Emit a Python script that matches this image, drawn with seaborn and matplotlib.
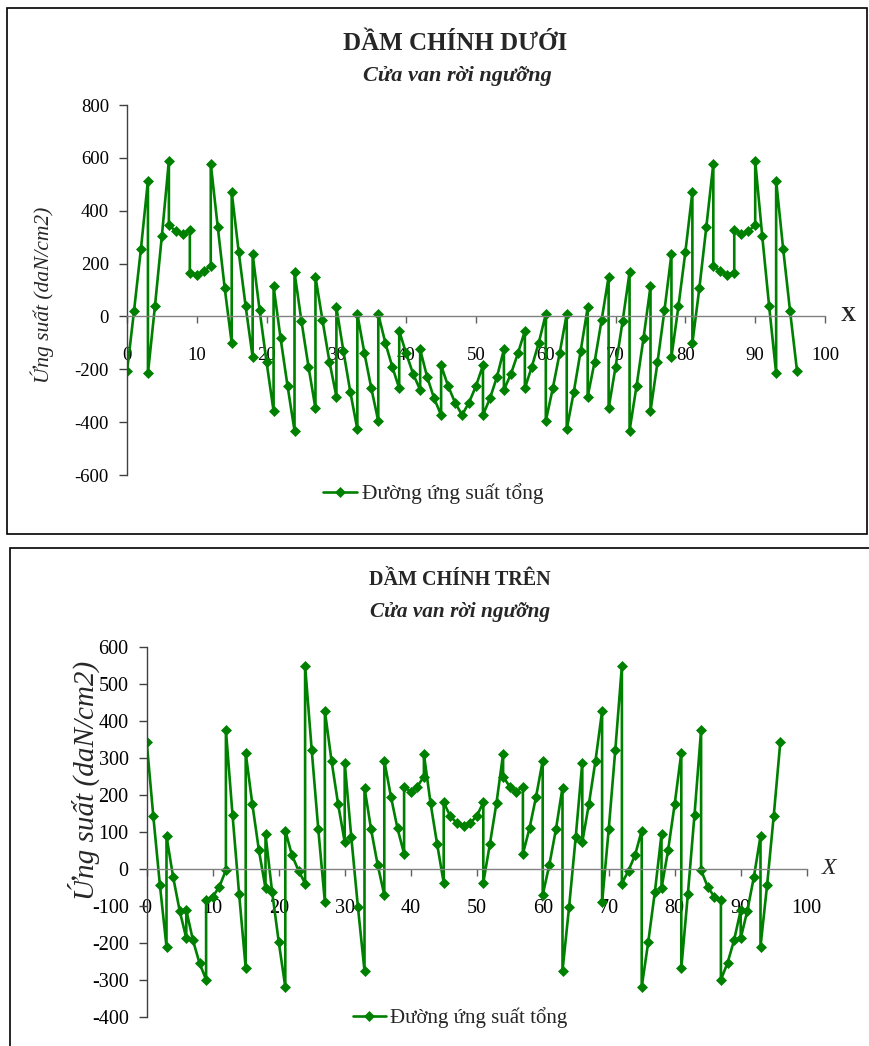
import matplotlib
matplotlib.use('Agg')
import matplotlib.pyplot as plt
import seaborn as sns
import pandas as pd
from matplotlib.patches import Rectangle

# ---------------- data ----------------
x_duoi = [0, 1, 2, 3, 3, 4, 5, 6, 6, 7, 8, 9, 9, 10, 11, 12, 12, 13, 14, 15, 15, 16, 17, 18, 18,
          19, 20, 21, 21, 22, 23, 24, 24, 25, 26, 27, 27, 28, 29, 30, 30, 31, 32, 33, 33, 34, 35,
          36, 36, 37, 38, 39, 39, 40, 41, 42, 42, 43, 44, 45, 45, 46, 47, 48,
          49, 50, 51, 51, 52, 53, 54, 54, 55, 56, 57, 57, 58, 59, 60, 60, 61, 62, 63, 63, 64, 65,
          66, 66, 67, 68, 69, 69, 70, 71, 72, 72, 73, 74, 75, 75, 76, 77, 78, 78, 79, 80, 81, 81,
          82, 83, 84, 84, 85, 86, 87, 87, 88, 89, 90, 90, 91, 92, 93, 93, 94, 95, 96]
y_duoi = [-208, 19, 257, 514, -215, 38, 306, 589, 346, 322, 313, 327, 166, 158, 171, 192, 578,
          339, 107, -101, 471, 245, 38, -154, 236, 23, -174, -358, 114, -82, -263, -432, 167,
          -19, -190, -348, 150, -13, -171, -303, 34, -130, -287, -427, 10, -137, -272, -396, 9,
          -99, -190, -272, -55, -140, -218, -278, -125, -229, -310, -373, -185, -263, -326, -373,
          -326, -263, -185, -373, -310, -229, -125, -278, -218, -140, -55, -272, -190, -99, 9,
          -396, -272, -137, 10, -427, -287, -130, 34, -303, -171, -13, 150, -348, -190, -19, 167,
          -432, -263, -82, 114, -358, -174, 23, 236, -154, 38, 245, 471, -101, 107, 339, 578, 192,
          171, 158, 166, 327, 313, 322, 346, 589, 306, 38, -215, 514, 257, 19, -208]

x_tren = [0, 1, 2, 3, 3, 4, 5, 6, 6, 7, 8, 9, 9, 10, 11, 12, 12, 13, 14, 15, 15, 16, 17, 18, 18,
          19, 20, 21, 21, 22, 23, 24, 24, 25, 26, 27, 27, 28, 29, 30, 30, 31, 32, 33, 33, 34, 35,
          36, 36, 37, 38, 39, 39, 40, 41, 42, 42, 43, 44, 45, 45, 46, 47, 48,
          49, 50, 51, 51, 52, 53, 54, 54, 55, 56, 57, 57, 58, 59, 60, 60, 61, 62, 63, 63, 64, 65,
          66, 66, 67, 68, 69, 69, 70, 71, 72, 72, 73, 74, 75, 75, 76, 77, 78, 78, 79, 80, 81, 81,
          82, 83, 84, 84, 85, 86, 87, 87, 88, 89, 90, 90, 91, 92, 93, 93, 94, 95, 96]
y_tren = [342, 142, -44, -211, 88, -22, -114, -188, -112, -193, -255, -300, -85, -76, -49, -4, 375,
          146, -68, -269, 313, 175, 50, -53, 93, -62, -197, -320, 103, 37, -5, -40, 549, 321, 106,
          -91, 426, 292, 175, 72, 287, 85, -103, -276, 219, 106, 10, -71, 292, 195, 109, 40, 222,
          208, 222, 249, 310, 178, 67, -38, 179, 142, 123, 115,
          123, 142, 179, -38, 67, 178, 310, 249, 222, 208, 222, 40, 109, 195, 292, -71, 10, 106,
          219, -276, -103, 85, 287, 72, 175, 292, 426, -91, 106, 321, 549, -40, -5, 37, 103, -320,
          -197, -62, 93, -53, 50, 175, 313, -269, -68, 146, 375, -4, -49, -76, -85, -300, -255,
          -193, -112, -188, -114, -22, 88, -211, -44, 142, 342]

x_ticks = list(range(0, 101, 10))
y_ticks_duoi = list(range(-600, 801, 200))
y_ticks_tren = list(range(-400, 601, 100))

title_duoi = 'DẦM CHÍNH DƯỚI'
title_tren = 'DẦM CHÍNH TRÊN'
subtitle = 'Cửa van rời ngưỡng'
ylabel = 'Ứng suất (daN/cm2)'
series_name = 'Đường ứng suất tổng'

# ---------------- style ----------------
sns.set_theme(style='ticks')
plt.rcParams['font.family'] = ['Liberation Serif', 'DejaVu Serif']
plt.rcParams['axes.unicode_minus'] = False

W, H = 870, 1046
GREEN = '#008000'
fig = plt.figure(figsize=(W / 100, H / 100), dpi=100)


def fx(px):
    return px / W


def fy(py):
    return 1 - py / H


# frames
fig.patches.append(Rectangle((fx(7), fy(534)), fx(867) - fx(7), fy(8) - fy(534),
                             transform=fig.transFigure, fill=False, edgecolor='black', lw=1.2))
fig.patches.append(Rectangle((fx(10), fy(1080)), fx(900) - fx(10), fy(548) - fy(1080),
                             transform=fig.transFigure, fill=False, edgecolor='black', lw=1.2))


def draw(ax, xs, ys, yticks, ylim, fs, xlab_style, xfs):
    df = pd.DataFrame({'x': xs, 'y': ys})
    sns.lineplot(data=df, x='x', y='y', estimator=None, sort=False, ax=ax, color=GREEN,
                 lw=1.9, marker='D', markersize=5, markeredgecolor=GREEN, markeredgewidth=0.5,
                 label=series_name, legend=False)
    ax.set_xlim(0, 100)
    ax.set_ylim(*ylim)
    ax.set_xticks(x_ticks)
    ax.set_yticks(yticks)
    ax.set_xlabel('')
    ax.set_ylabel('')
    ax.set_facecolor('none')
    for s in ['top', 'right']:
        ax.spines[s].set_visible(False)
    ax.spines['bottom'].set_position(('data', 0))
    ax.spines['bottom'].set_color('#808080')
    ax.spines['left'].set_color('#404040')
    ax.spines['bottom'].set_linewidth(1.0)
    ax.spines['left'].set_linewidth(1.0)
    ax.tick_params(axis='x', direction='out', length=5, width=1, colors='#606060',
                   labelcolor='black', labelsize=fs, pad=17)
    ax.tick_params(axis='y', direction='out', length=6, width=1, colors='#404040',
                   labelcolor='black', labelsize=fs, pad=7)
    ax.text(103.3, 0, 'X', fontsize=xfs, va='center', ha='center', clip_on=False,
            **xlab_style)


ax1 = fig.add_axes([fx(127), fy(475), fx(825) - fx(127), fy(105) - fy(475)])
draw(ax1, x_duoi, y_duoi, y_ticks_duoi, (-600, 800), 13.5, {'weight': 'bold'}, 15)

ax2 = fig.add_axes([fx(146.7), fy(1016.7), fx(806.7) - fx(146.7), fy(646.7) - fy(1016.7)])
draw(ax2, x_tren, y_tren, y_ticks_tren, (-400, 600), 14.5, {'style': 'italic'}, 17)

# titles
fig.text(fx(455), fy(43), title_duoi, weight='bold', fontsize=18, ha='center', va='center')
fig.text(fx(457), fy(76), subtitle, weight='bold', style='italic', fontsize=16,
         ha='center', va='center')
fig.text(fx(460), fy(580), title_tren, weight='bold', fontsize=14.5, ha='center', va='center')
fig.text(fx(460), fy(612), subtitle, weight='bold', style='italic', fontsize=15.3,
         ha='center', va='center')

# y labels
fig.text(fx(42), fy(295), ylabel, rotation=90, style='italic', fontsize=15.5,
         ha='center', va='center')
fig.text(fx(84), fy(780), ylabel, rotation=90, style='italic', fontsize=21,
         ha='center', va='center')

# legends
for ax, cx, cy, lfs in [(ax1, 433, 494, 15.5), (ax2, 460, 1018, 15)]:
    ax.legend(loc='center', bbox_to_anchor=(fx(cx), fy(cy)), bbox_transform=fig.transFigure,
              frameon=False, fontsize=lfs, handlelength=1.6, handletextpad=0.2,
              borderaxespad=0, borderpad=0)

fig.savefig('out.png', dpi=100)
